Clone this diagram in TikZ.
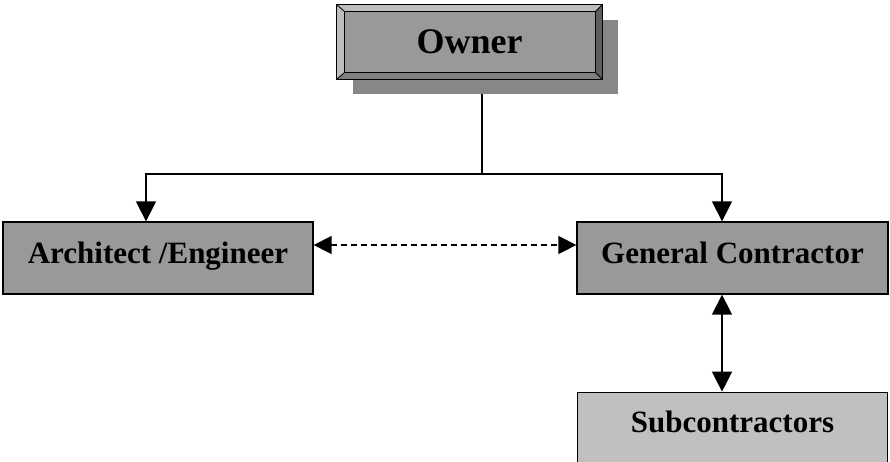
\documentclass[tikz,border=0pt]{standalone}
\usepackage{fontspec}
\setmainfont{Liberation Serif}
\usetikzlibrary{positioning}
\usetikzlibrary{calc}
\usetikzlibrary{arrows.meta}
\usetikzlibrary{shadows}

\definecolor{facegray}{HTML}{999999}
\definecolor{subgray}{HTML}{C0C0C0}
\definecolor{shadegray}{HTML}{878787}
\definecolor{litegray}{HTML}{BDBDBD}
\definecolor{darkgray}{HTML}{5E5E5E}

\tikzset{
    party/.style={draw, line width=1.3pt, fill=facegray, font=\bfseries\fontsize{31}{31}\selectfont,
                  minimum width=310pt, minimum height=72pt, inner sep=0pt, text depth=11pt},
    link/.style={line width=1.4pt, -{Triangle[length=20pt, width=20pt]}},
}

\begin{document}
\begin{tikzpicture}[x=1pt, y=-1pt]
    \useasboundingbox (0,0) rectangle (890,461);

    \node [party, minimum width=265pt, minimum height=74pt, font=\bfseries\fontsize{36}{36}\selectfont,
           text depth=0pt,
           drop shadow={shadow xshift=16pt, shadow yshift=-15pt, fill=shadegray, opacity=1}]
           (owner) at (469.5,42) {Owner};
    % bevel round the owner box
    \coordinate (inw) at ($(owner.north west)+(8,7)$);
    \coordinate (ine) at ($(owner.north east)+(-7,7)$);
    \coordinate (isw) at ($(owner.south west)+(8,-7)$);
    \coordinate (ise) at ($(owner.south east)+(-7,-7)$);
    \fill [litegray] (owner.north west) -- (owner.north east) -- (ine) -- (inw) -- cycle;
    \fill [litegray] (owner.north west) -- (inw) -- (isw) -- (owner.south west) -- cycle;
    \fill [darkgray] (owner.north east) -- (owner.south east) -- (ise) -- (ine) -- cycle;
    \fill [gray] (owner.south west) -- (isw) -- (ise) -- (owner.south east) -- cycle;
    \draw [line width=1.3pt] (owner.north west) rectangle (owner.south east);
    \draw [line width=0.8pt] (inw) rectangle (ise);
    \draw [line width=0.8pt] (owner.north west) -- (inw) (owner.north east) -- (ine)
          (owner.south west) -- (isw) (owner.south east) -- (ise);

    \node [party] (arch) at (158,258) {Architect /Engineer};
    \node [party, minimum width=311pt] (gc) at (732.5,258) {General Contractor};
    \node [party, below=96pt of gc, fill=subgray, yshift=-1pt, text depth=13pt] (sub) {Subcontractors};

    \coordinate (branch) at (482,174);
    \draw [line width=1.4pt] ([yshift=-14pt]owner.south -| branch) -- (branch);
    \draw [link] (branch) -| ([xshift=-12pt]arch.north);
    \draw [link] (branch) -| ([xshift=-10.5pt]gc.north);

    \draw [link, {Triangle[length=18pt, width=18pt]}-{Triangle[length=18pt, width=18pt]},
           dash pattern=on 6pt off 4pt] ([yshift=13pt]arch.east) -- ([yshift=13pt]gc.west);
    \draw [link, {Triangle[length=20pt, width=20pt]}-{Triangle[length=20pt, width=20pt]}]
          ([xshift=-10.5pt]gc.south) -- ([xshift=-10.5pt]sub.north);
\end{tikzpicture}
\end{document}
